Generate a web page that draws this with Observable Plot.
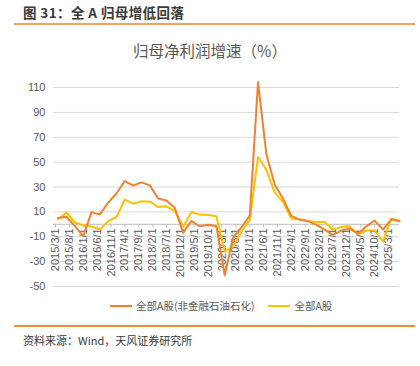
<!DOCTYPE html>
<html><head><meta charset="utf-8">
<script src="https://cdn.jsdelivr.net/npm/d3@7"></script>
<script src="https://cdn.jsdelivr.net/npm/@observablehq/plot@0.6"></script>
<style>
body{margin:0;width:420px;height:366px;position:relative;background:#fff;font-family:"Noto Sans CJK SC","Noto Sans",sans-serif;overflow:hidden}
.abs{position:absolute;white-space:nowrap}
.sw{display:inline-block;width:22px;height:2px;vertical-align:middle;margin-right:4px;position:relative;top:-1px}
</style></head><body>
<div class="abs" style="left:23px;top:3px;font-size:13.5px;font-weight:bold;color:#3a3a3a;line-height:18px;letter-spacing:0.4px">图 31：全 A 归母增低回落</div>
<div class="abs" style="left:14px;top:23px;width:401px;height:2px;background:#F5A25C"></div>
<div class="abs" style="left:0;width:420px;top:39px;text-align:center;font-size:15.5px;color:#595959;line-height:22px">归母净利润增速（%）</div>
<div id="chart" class="abs" style="left:0;top:70px"></div>
<div class="abs" style="left:110px;top:298px;font-size:10.5px;color:#595959;line-height:16px">
<span class="sw" style="background:#F0822F"></span>全部A股(非金融石油石化)<span class="sw" style="background:#FFC000;margin-left:14px"></span>全部A股</div>
<div class="abs" style="left:14px;top:325px;width:401px;height:2px;background:#F28A2E"></div>
<div class="abs" style="left:23px;top:332px;font-size:11px;color:#3a3a3a;line-height:16px">资料来源：Wind，天风证券研究所</div>
<script>
const dates = ["2015-03-31","2015-06-30","2015-09-30","2015-12-31","2016-03-31","2016-06-30","2016-09-30","2016-12-31",
"2017-03-31","2017-06-30","2017-09-30","2017-12-31","2018-03-31","2018-06-30","2018-09-30","2018-12-31",
"2019-03-31","2019-06-30","2019-09-30","2019-12-31","2020-03-31","2020-06-30","2020-09-30","2020-12-31",
"2021-03-31","2021-06-30","2021-09-30","2021-12-31","2022-03-31","2022-06-30","2022-09-30","2022-12-31",
"2023-03-31","2023-06-30","2023-09-30","2023-12-31","2024-03-31","2024-06-30","2024-09-30","2024-12-31",
"2025-03-31","2025-06-30"];
const exFinOil = [5,6,-1.5,-9.5,9.8,7.8,17.5,25,34.8,31.2,33.7,31.3,20.8,19.2,13.3,-6.7,2.7,-1.6,-0.3,-1.6,
-41,-11,-2.5,7,114.3,56.8,32,20.6,6.8,3.8,2.5,-0.5,-4.3,-8.5,-5,-3.5,-7.5,-1.6,3,-4.2,4,2.5];
const allA = [4.1,9.5,1.5,-0.8,-1.8,-4.3,2.5,5.9,19.9,16.6,18.5,18.2,13.9,14.5,10.7,-2,9.9,7.8,7.5,6.5,
-22,-18,-6,3.5,54,44,25.5,18,4.6,3.8,2.7,1.9,1.9,-4.3,-2.1,-1.6,-8,-5,-4.8,-14,4.6,2.7];
const xTickLabels = ["2015/3/1","2015/8/1","2016/1/1","2016/6/1","2016/11/1","2017/4/1","2017/9/1","2018/2/1",
"2018/7/1","2018/12/1","2019/5/1","2019/10/1","2020/3/1","2020/8/1","2021/1/1","2021/6/1","2021/11/1",
"2022/4/1","2022/9/1","2023/2/1","2023/7/1","2023/12/1","2024/5/1","2024/10/1","2025/3/1"];
const yTicks = [-50,-30,-10,10,30,50,70,90,110];

const parse = s => { const [y,m,d] = s.split("/").map(Number); return new Date(Date.UTC(y,m-1,d)); };
const rowsA = dates.map((d,i) => ({date:new Date(d+"T00:00:00Z"), v:exFinOil[i]}));
const rowsB = dates.map((d,i) => ({date:new Date(d+"T00:00:00Z"), v:allA[i]}));
const ticks = xTickLabels.map(s => ({date:parse(s), label:s}));

const chart = Plot.plot({
  width:420, height:230,
  marginLeft:53, marginRight:21, marginTop:17, marginBottom:14,
  style:{fontFamily:"'Liberation Sans',Arial,sans-serif", fontSize:"11px", color:"#595959", background:"transparent"},
  x:{type:"utc", domain:[new Date(Date.UTC(2015,1,8)), new Date(Date.UTC(2025,5,30))], axis:null},
  y:{domain:[-50,110], ticks:yTicks, tickSize:0, tickPadding:8, tickFormat:d=>String(d), label:null},
  marks:[
    Plot.ruleY(yTicks, {stroke:"#d9d9d9", strokeWidth:1}),
    Plot.ruleY([0], {stroke:"#bfbfbf", strokeWidth:1}),
    Plot.ruleX(ticks, {x:"date", y1:0, y2:-3, stroke:"#bfbfbf"}),
    Plot.text(ticks, {x:"date", y:0, text:"label", rotate:-90, textAnchor:"end", dy:4, fill:"#595959", fontSize:11}),
    Plot.line(rowsB, {x:"date", y:"v", stroke:"#FFC000", strokeWidth:2}),
    Plot.line(rowsA, {x:"date", y:"v", stroke:"#F0822F", strokeWidth:2})
  ]
});
document.getElementById("chart").appendChild(chart);
</script>
</body></html>
